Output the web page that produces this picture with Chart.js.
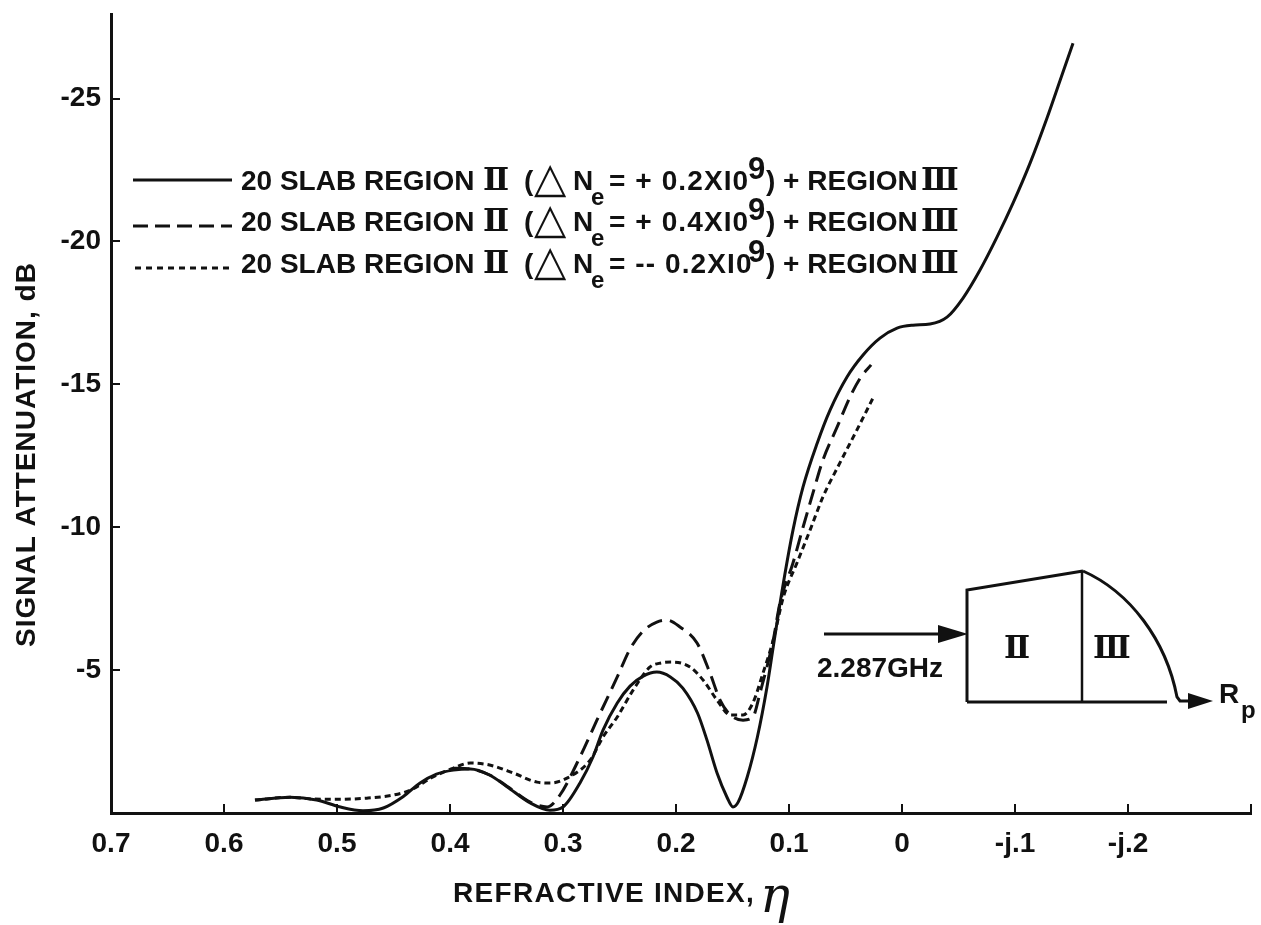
<!DOCTYPE html>
<html>
<head>
<meta charset="utf-8">
<title>Signal attenuation vs refractive index</title>
<script src="https://cdn.jsdelivr.net/npm/chart.js@4"></script>
<style>
  html, body { margin: 0; padding: 0; background: #fff; }
  canvas { display: block; }
</style>
</head>
<body>
<canvas id="chart" width="1261" height="925"></canvas>
<script>
// values
const solidEta = [0.5726, 0.5416, 0.518, 0.498, 0.477, 0.459, 0.4416, 0.4265, 0.412, 0.397, 0.382, 0.365, 0.3496, 0.329, 0.3115, 0.30, 0.285, 0.2735, 0.2646, 0.252, 0.2407, 0.229, 0.217, 0.205, 0.194, 0.181, 0.1726, 0.1637, 0.155, 0.1496, 0.145, 0.137, 0.128, 0.1195, 0.114, 0.105, 0.0965, 0.0876, 0.075, 0.0637, 0.0487, 0.0345, 0.0195, 0.0044, -0.0097, -0.0248, -0.0398, -0.054, -0.069, -0.084, -0.0982, -0.1133, -0.1283, -0.14, -0.1513];
const solidDb = [-0.455, -0.55, -0.455, -0.22, -0.08, -0.175, -0.57, -1.05, -1.36, -1.50, -1.54, -1.33, -0.92, -0.35, -0.10, -0.21, -1.05, -1.96, -2.90, -3.85, -4.44, -4.79, -4.93, -4.76, -4.37, -3.50, -2.55, -1.40, -0.56, -0.21, -0.38, -1.26, -2.66, -4.41, -5.81, -8.05, -9.90, -11.41, -12.95, -14.10, -15.26, -16.03, -16.62, -16.97, -17.07, -17.11, -17.35, -18.02, -19.0, -20.15, -21.34, -22.74, -24.32, -25.65, -26.94];

const dashedEta = [0.397, 0.382, 0.365, 0.3496, 0.329, 0.314, 0.3027, 0.285, 0.27, 0.252, 0.2407, 0.229, 0.217, 0.208, 0.1965, 0.1814, 0.17, 0.161, 0.152, 0.1407, 0.132, 0.1257, 0.114, 0.108, 0.0965, 0.0876, 0.0788, 0.07, 0.0575, 0.046, 0.037, 0.0274];
const dashedDb = [-1.57, -1.54, -1.33, -0.94, -0.38, -0.21, -0.63, -1.96, -3.25, -4.76, -5.74, -6.37, -6.68, -6.75, -6.51, -5.95, -4.90, -3.95, -3.43, -3.25, -3.36, -4.20, -6.05, -7.35, -8.75, -10.0, -11.2, -12.35, -13.5, -14.56, -15.22, -15.68];

const dottedEta = [0.5726, 0.5416, 0.521, 0.498, 0.4735, 0.45, 0.435, 0.415, 0.397, 0.382, 0.365, 0.344, 0.323, 0.3115, 0.2965, 0.276, 0.2646, 0.252, 0.238, 0.223, 0.2133, 0.2027, 0.1876, 0.176, 0.1637, 0.152, 0.1407, 0.132, 0.123, 0.114, 0.105, 0.093, 0.0814, 0.07, 0.055, 0.04, 0.0257];
const dottedDb = [-0.455, -0.55, -0.49, -0.48, -0.52, -0.63, -0.80, -1.26, -1.57, -1.75, -1.68, -1.40, -1.08, -1.05, -1.22, -1.85, -2.66, -3.36, -4.30, -5.11, -5.25, -5.28, -5.11, -4.65, -3.95, -3.43, -3.43, -3.85, -4.90, -6.05, -7.56, -8.75, -9.9, -11.06, -12.25, -13.4, -14.52];

const xTickValues = [0.7, 0.6, 0.5, 0.4, 0.3, 0.2, 0.1, 0, -0.1, -0.2, -0.3088];
const xTickLabels = ['0.7', '0.6', '0.5', '0.4', '0.3', '0.2', '0.1', '0', '-j.1', '-j.2', ''];
const yTickValues = [-25, -20, -15, -10, -5];

const legendDeltas = ['= + 0.2XI0', '= + 0.4XI0', '= -- 0.2XI0'];

const INK = '#111';
const BOLD = 'bold 28px "Liberation Sans"';

function toPoints(xs, ys) {
    return xs.map((x, i) => ({ x: x, y: ys[i] }));
}

function put(ctx, text, x, y, font, spacing) {
    ctx.font = font || BOLD;
    ctx.letterSpacing = spacing || '0px';
    ctx.fillText(text, x, y);
    ctx.letterSpacing = '0px';
}

function line(ctx, pts, width) {
    ctx.lineWidth = width;
    ctx.beginPath();
    pts.forEach((p, i) => i ? ctx.lineTo(p[0], p[1]) : ctx.moveTo(p[0], p[1]));
    ctx.stroke();
}

function arrowHead(ctx, tipX, baseX, y, half) {
    ctx.beginPath();
    ctx.moveTo(tipX, y);
    ctx.lineTo(baseX, y - half);
    ctx.lineTo(baseX, y + half);
    ctx.closePath();
    ctx.fill();
}

function drawLegend(ctx) {
    const rows = [
        { base: 190, lineY: 180, dash: [], x0: 133 },
        { base: 231, lineY: 226, dash: [15, 7], x0: 133 },
        { base: 273, lineY: 268, dash: [6, 5], x0: 135 }
    ];
    const roman = 'bold 31px "DejaVu Serif"';
    rows.forEach((r, i) => {
        ctx.setLineDash(r.dash);
        line(ctx, [[r.x0, r.lineY], [232, r.lineY]], 3);
        ctx.setLineDash([]);
        const b = r.base;
        put(ctx, '20 SLAB REGION', 241, b);
        put(ctx, 'Ⅱ', 483, b, roman);
        put(ctx, '(', 524, b);
        put(ctx, '△', 534, b + 2, 'bold 42px "DejaVu Sans"');
        put(ctx, 'N', 573, b);
        put(ctx, 'e', 591, b + 15, 'bold 24px "Liberation Sans"');
        put(ctx, legendDeltas[i], 609, b, BOLD, '1.1px');
        put(ctx, '9', 748, b - 11, 'bold 31px "Liberation Sans"');
        put(ctx, ') + REGION', 766, b);
        put(ctx, 'Ⅲ', 921, b, roman);
    });
}

function drawInset(ctx) {
    // little profile sketch, not data
    line(ctx, [[824, 634], [945, 634]], 3);
    arrowHead(ctx, 968, 938, 634, 9);
    line(ctx, [[967, 702], [967, 590], [1083, 571]], 3);
    line(ctx, [[1082, 571], [1082, 702]], 2.5);
    line(ctx, [[967, 702], [1167, 702]], 3);
    ctx.lineWidth = 3;
    ctx.beginPath();
    ctx.moveTo(1083, 571);
    ctx.bezierCurveTo(1130, 592, 1166, 640, 1177, 697);
    ctx.lineTo(1180, 701);
    ctx.lineTo(1195, 701);
    ctx.stroke();
    arrowHead(ctx, 1213, 1188, 701, 8);

    put(ctx, '2.287GHz', 817, 677);
    put(ctx, 'Ⅱ', 1004, 658, 'bold 31px "DejaVu Serif"');
    put(ctx, 'Ⅲ', 1093, 658, 'bold 31px "DejaVu Serif"');
    put(ctx, 'R', 1219, 703);
    put(ctx, 'p', 1241, 718, 'bold 24px "Liberation Sans"');
}

const paperPlugin = {
    id: 'paper',
    afterDraw(chart) {
        const ctx = chart.ctx;
        ctx.save();
        ctx.fillStyle = INK;
        ctx.strokeStyle = INK;
        ctx.textAlign = 'left';
        ctx.textBaseline = 'alphabetic';
        drawLegend(ctx);
        drawInset(ctx);

        // axis titles sit off centre in the original
        put(ctx, 'REFRACTIVE INDEX,', 453, 902, BOLD, '1.3px');
        put(ctx, 'η', 760, 912, 'italic 50px "DejaVu Serif"');
        ctx.translate(35, 647);
        ctx.rotate(-Math.PI / 2);
        put(ctx, 'SIGNAL ATTENUATION, dB', 0, 0, BOLD, '1px');
        ctx.restore();
    }
};

// the axes must not reserve room for their outer labels
function noScalePadding(s) {
    s.paddingLeft = s.paddingRight = s.paddingTop = s.paddingBottom = 0;
}

new Chart(document.getElementById('chart'), {
    type: 'scatter',
    data: {
        datasets: [
            { label: 'Region II +0.2', data: toPoints(solidEta, solidDb), borderWidth: 3 },
            { label: 'Region II +0.4', data: toPoints(dashedEta, dashedDb), borderWidth: 3, borderDash: [16, 8] },
            { label: 'Region II -0.2', data: toPoints(dottedEta, dottedDb), borderWidth: 3, borderDash: [6, 4] }
        ].map(d => Object.assign(d, {
            showLine: true,
            borderColor: INK,
            backgroundColor: INK,
            pointRadius: 0,
            cubicInterpolationMode: 'monotone',
            fill: false
        }))
    },
    options: {
        responsive: false,
        animation: false,
        layout: { padding: { top: 14, right: 10 } },
        plugins: { legend: { display: false }, title: { display: false }, tooltip: { enabled: false } },
        scales: {
            x: {
                type: 'linear',
                reverse: true,
                min: -0.3088,
                max: 0.7,
                afterFit: s => { s.height = 112; noScalePadding(s); },
                afterBuildTicks: s => { s.ticks = xTickValues.map(v => ({ value: v })); },
                border: { color: INK, width: 3 },
                grid: { drawOnChartArea: false, color: INK, lineWidth: 2, tickLength: -9 },
                ticks: {
                    color: INK,
                    font: { family: 'Liberation Sans', weight: 'bold', size: 28 },
                    maxRotation: 0,
                    autoSkip: false,
                    padding: 23,
                    callback: (v, i) => xTickLabels[i]
                }
            },
            y: {
                type: 'linear',
                reverse: true,
                min: -27.96,
                max: 0,
                afterFit: s => { s.width = 111; noScalePadding(s); },
                afterBuildTicks: s => { s.ticks = yTickValues.map(v => ({ value: v })); },
                border: { color: INK, width: 3 },
                grid: { drawOnChartArea: false, color: INK, lineWidth: 2, tickLength: -9 },
                ticks: {
                    color: INK,
                    font: { family: 'Liberation Sans', weight: 'bold', size: 28 },
                    padding: 19,
                    callback: v => String(v)
                }
            }
        }
    },
    plugins: [paperPlugin]
});
</script>
</body>
</html>
